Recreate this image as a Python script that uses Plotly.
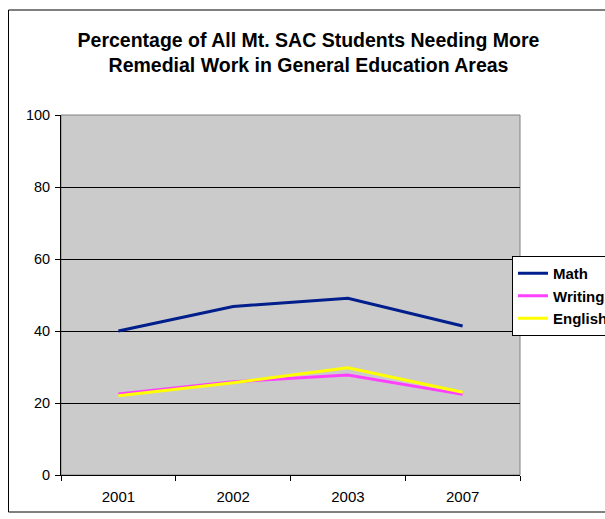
import plotly.graph_objects as go

years = ["2001", "2002", "2003", "2007"]
math = [40.0, 46.8, 49.1, 41.4]
writing = [22.5, 25.9, 27.8, 22.4]
english = [22.0, 25.6, 29.8, 23.0]
series_names = ["Math", "Writing", "English"]
series_colors = ["#001E8C", "#FF40FF", "#FFFF00"]

W, H = 605, 519
L, R, T, B = 61, 85, 115, 44
pw, ph = W - L - R, H - T - B
FONT = "Arial, Liberation Sans, sans-serif"

fig = go.Figure()
for name, vals, col in zip(series_names, [math, writing, english], series_colors):
    fig.add_trace(go.Scatter(x=years, y=vals, mode="lines", name=name,
                             line=dict(color=col, width=3)))

def px_x(p):
    return (p - L) / pw

def px_y(p):
    return (H - B - p) / ph

# outer chart border
fig.add_shape(type="rect", xref="paper", yref="paper",
              x0=px_x(8.5), x1=px_x(700), y0=px_y(512), y1=px_y(10),
              line=dict(color="black", width=1), fillcolor="rgba(0,0,0,0)", layer="below")

fig.update_layout(
    width=W, height=H,
    margin=dict(l=L, r=R, t=T, b=B, autoexpand=False),
    paper_bgcolor="white",
    plot_bgcolor="#CBCBCB",
    font=dict(family=FONT, size=14, color="black"),
    title=dict(text="<b>Percentage of All Mt. SAC Students Needing More<br>Remedial Work in General Education Areas</b>",
               x=308.5 / W, xref="container", xanchor="center",
               y=1 - 47 / H, yanchor="middle",
               font=dict(size=19.5, family=FONT)),
    showlegend=True,
    legend=dict(x=px_x(512), y=px_y(256), xanchor="left", yanchor="top",
                bgcolor="white", bordercolor="black", borderwidth=1,
                font=dict(size=15, family=FONT, weight="bold"),
                tracegroupgap=0, itemwidth=30),
    xaxis=dict(type="category", showgrid=False, tickson="boundaries",
               ticks="outside", ticklen=5, tickcolor="black",
               showline=True, linecolor="black", linewidth=1, mirror=False,
               range=[-0.5, 3.5], tickfont=dict(size=15), ticklabelstandoff=8),
    yaxis=dict(range=[0, 100], tickvals=[0, 20, 40, 60, 80, 100],
               showgrid=True, gridcolor="black", gridwidth=1,
               ticks="outside", ticklen=5, tickcolor="black",
               showline=True, linecolor="black", linewidth=1,
               zeroline=False, tickfont=dict(size=14.5), ticklabelstandoff=2),
)
# plot area border (grey)
fig.add_shape(type="rect", xref="paper", yref="paper", x0=0, x1=1, y0=0, y1=1,
              line=dict(color="#808080", width=1), layer="below")

fig.write_html("out.html")
